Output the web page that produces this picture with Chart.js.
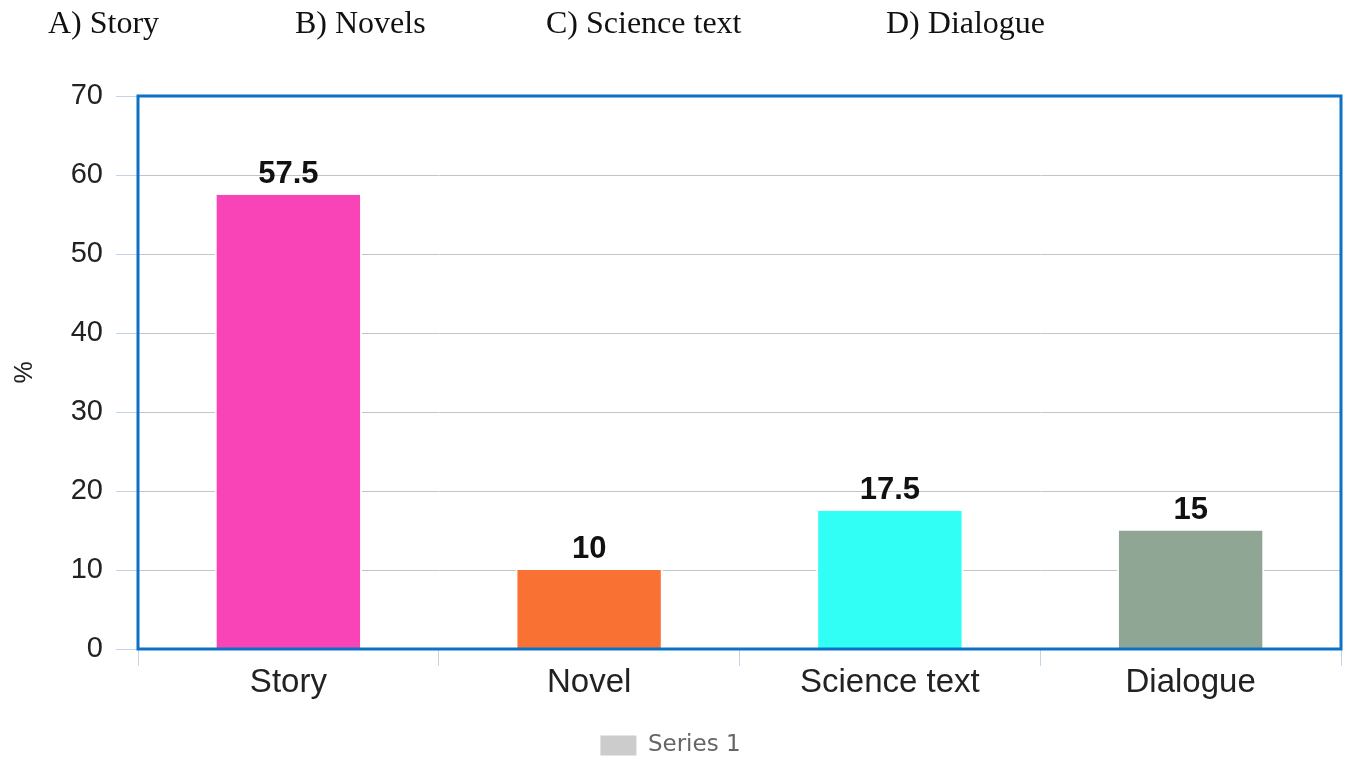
<!DOCTYPE html>
<html>
<head>
<meta charset="utf-8">
<script src="https://cdn.jsdelivr.net/npm/chart.js@4"></script>
<style>
  html, body { margin: 0; padding: 0; background: #fff; }
  #wrap { position: relative; width: 1349px; height: 758px; }
  #options span {
    position: absolute; top: 6px; line-height: 1;
    font-family: 'Liberation Serif', 'Times New Roman', serif;
    font-size: 32px; color: #111; white-space: nowrap;
  }
  canvas { position: absolute; left: 0; top: 0; }
</style>
</head>
<body>
<div id="wrap">
  <canvas id="chart" width="1349" height="758"></canvas>
  <div id="options">
    <span style="left:48px">A) Story</span>
    <span style="left:295px">B) Novels</span>
    <span style="left:546px">C) Science text</span>
    <span style="left:886px">D) Dialogue</span>
  </div>
</div>
<script>
'use strict';

// ─── Data ─────────────────────────────────────────────────────────────────────

const categories = ['Story', 'Novel', 'Science text', 'Dialogue'];
const values = [57.5, 10, 17.5, 15];
const barColors = ['#F944B7', '#F97233', '#31FFF6', '#8FA694'];
const yTicks = [0, 10, 20, 30, 40, 50, 60, 70];
const seriesName = 'Series 1';

const SANS = "'Liberation Sans', Arial, sans-serif";
const AXIS_BLUE = '#c3d4e6';

// ─── Plugins ──────────────────────────────────────────────────────────────────

const plotBorder = {
  id: 'plotBorder',
  afterDatasetsDraw(chart) {
    const { ctx, chartArea: a } = chart;
    ctx.save();
    ctx.strokeStyle = '#0b72c7';
    ctx.lineWidth = 3;
    ctx.strokeRect(a.left, a.top, a.right - a.left, a.bottom - a.top);
    ctx.restore();
  },
};

const valueLabels = {
  id: 'valueLabels',
  afterDraw(chart) {
    const { ctx } = chart;
    const meta = chart.getDatasetMeta(0);
    ctx.save();
    ctx.font = `bold 31px ${SANS}`;
    ctx.fillStyle = '#111';
    ctx.textAlign = 'center';
    ctx.textBaseline = 'alphabetic';
    meta.data.forEach((bar, i) => {
      ctx.fillText(String(values[i]), bar.x, bar.y - 12);
    });
    ctx.restore();
  },
};

// ─── Chart ────────────────────────────────────────────────────────────────────

new Chart(document.getElementById('chart').getContext('2d'), {
  type: 'bar',
  data: {
    labels: categories,
    datasets: [{
      label: seriesName,
      data: values,
      backgroundColor: barColors,
      borderColor: '#ffffff',
      borderWidth: { left: 2, right: 2, top: 0, bottom: 0 },
      barPercentage: 0.49,
      categoryPercentage: 1,
    }],
  },
  options: {
    responsive: false,
    animation: false,
    layout: { padding: { top: 96, right: 8, left: 0, bottom: -9 } },
    plugins: {
      tooltip: { enabled: false },
      legend: {
        position: 'bottom',
        labels: {
          boxWidth: 36,
          boxHeight: 20,
          padding: 3,
          color: '#666',
          font: { family: "'DejaVu Sans', sans-serif", size: 23 },
          generateLabels: () => [{
            text: seriesName,
            fillStyle: '#cccccc',
            strokeStyle: '#cccccc',
            lineWidth: 0,
            fontColor: '#666',
          }],
        },
      },
    },
    scales: {
      x: {
        grid: {
          drawOnChartArea: false,
          drawTicks: true,
          tickLength: 17,
          tickColor: AXIS_BLUE,
          offset: true,
        },
        border: { color: AXIS_BLUE, width: 2 },
        ticks: { font: { family: SANS, size: 33 }, color: '#222', padding: -3 },
        afterFit: (scale) => { scale.height = 82; },
      },
      y: {
        min: 0,
        max: 70,
        afterBuildTicks: (scale) => { scale.ticks = yTicks.map((v) => ({ value: v })); },
        grid: { color: '#c4c4c4', lineWidth: 1, tickLength: 22, tickColor: AXIS_BLUE },
        border: { color: AXIS_BLUE, width: 2 },
        ticks: { font: { family: SANS, size: 29 }, color: '#222', padding: 13 },
        title: {
          display: true,
          text: '%',
          color: '#222',
          font: { family: SANS, size: 25 },
          padding: { top: 10, bottom: 0 },
        },
        afterFit: (scale) => { scale.width = 138; },
      },
    },
  },
  plugins: [plotBorder, valueLabels],
});
</script>
</body>
</html>
